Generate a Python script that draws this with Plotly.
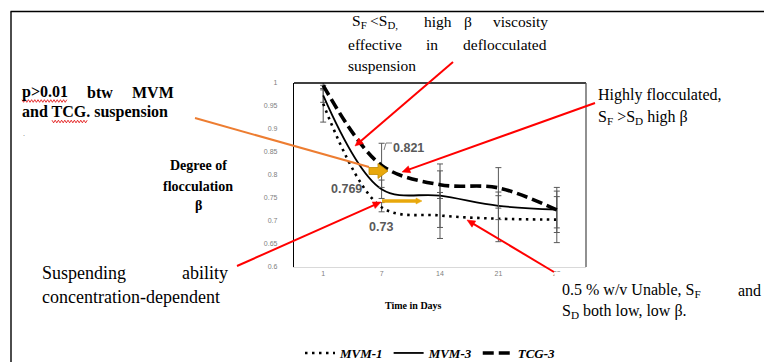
import math
import plotly.graph_objects as go

# ---------------- data ----------------
days = ["1", "7", "14", "21", "28"]
series_names = ["MVM-1", "MVM-3", "TCG-3"]
mvm1 = [0.955, 0.730, 0.712, 0.705, 0.703]
mvm3 = [0.973, 0.769, 0.755, 0.733, 0.725]
tcg3 = [0.995, 0.821, 0.779, 0.772, 0.724]
mvm1_err = [0.040, 0.010, 0.050, 0.050, 0.050]
mvm3_err = [0.015, 0.020, 0.069, 0.030, 0.040]
tcg3_err = [0.010, 0.048, 0.030, 0.044, 0.049]
y_tick_vals = [0.6, 0.65, 0.7, 0.75, 0.8, 0.85, 0.9, 0.95, 1.0]
y_tick_text = ["0.6", "0.65", "0.7", "0.75", "0.8", "0.85", "0.9", "0.95", "1"]
value_labels = [("7", 0.821, "0.821"), ("7", 0.769, "0.769"), ("7", 0.73, "0.73")]

# ---------------- layout geometry (pixels) ----------------
W, H = 764, 362
L, R, T, B = 294, 586, 83, 267


def px(x):
    return (x - L) / (R - L)


def py(y):
    return (B - y) / (B - T)


SERIF = "Liberation Serif"
SANS = "Liberation Sans"

fig = go.Figure()
styles = {
    "MVM-1": dict(color="black", width=2.6, dash="2.5px,4.5px"),
    "MVM-3": dict(color="black", width=1.8, dash="solid"),
    "TCG-3": dict(color="black", width=3.6, dash="11px,5px"),
}
for name, vals, err in zip(series_names, [mvm1, mvm3, tcg3], [mvm1_err, mvm3_err, tcg3_err]):
    fig.add_trace(go.Scatter(
        x=days, y=vals, name=name, mode="lines",
        line=dict(shape="spline", **styles[name]),
        error_y=dict(type="data", array=err, visible=True, color="#595959", thickness=1, width=3),
    ))

annotations = []
shapes = []


def txt(x, y, s, size, bold=False, anchor="left", color="black", font=SERIF):
    annotations.append(dict(
        xref="paper", yref="paper", x=px(x), y=py(y), text=s, showarrow=False,
        xanchor=anchor, yanchor="middle", borderpad=0,
        font=dict(family=font, size=size, color=color, weight="bold" if bold else "normal"),
    ))


def path_of(pts, close=False):
    d = "M " + " L ".join(f"{px(a):.5f},{py(b):.5f}" for a, b in pts)
    return d + (" Z" if close else "")


def line(x0, y0, x1, y1, color="black", width=1.3):
    shapes.append(dict(type="line", xref="paper", yref="paper", x0=px(x0), y0=py(y0),
                       x1=px(x1), y1=py(y1), line=dict(color=color, width=width), layer="above"))


def arrow(hx, hy, tx, ty, color="#FF0000", width=2, hl=8, hw=3.6):
    dx, dy = hx - tx, hy - ty
    n = math.hypot(dx, dy)
    ux, uy = dx / n, dy / n
    bx, by = hx - ux * hl, hy - uy * hl
    line(tx, ty, bx + ux * 1.0, by + uy * 1.0, color=color, width=width)
    pts = [(hx, hy), (bx - uy * hw, by + ux * hw), (bx + uy * hw, by - ux * hw)]
    shapes.append(dict(type="path", xref="paper", yref="paper", path=path_of(pts, True),
                       fillcolor=color, line=dict(color=color, width=0.5), layer="above"))


def squiggle(x0, x1, y, color="#E00000"):
    pts = []
    x = x0
    up = True
    while x <= x1:
        pts.append((x, y - 1.3 if up else y + 1.3))
        up = not up
        x += 1.6
    shapes.append(dict(type="path", xref="paper", yref="paper", path=path_of(pts),
                       line=dict(color=color, width=0.8), layer="above"))


# page frame
line(10.5, 11.5, 764, 11.5, width=1.4)
line(11, 11.5, 11, 362, width=1.4)
# plot box: top and right borders
line(L, T, R, T, color="black", width=1.3)
line(R, T, R, B, color="#555555", width=1.3)
# white text box hiding the last tick label (as in original)
shapes.append(dict(type="rect", xref="paper", yref="paper", x0=px(554.5), x1=px(764),
                   y0=py(272), y1=py(330), fillcolor="white", line=dict(width=0), layer="above"))

# top explanatory text (justified)
for s, x in [("S<sub>F</sub>", 351), ("&lt;S<sub>D,</sub>", 369), ("high", 423), ("β", 463), ("viscosity", 492)]:
    txt(x, 22, s, 15.5)
for s, x in [("effective", 347), ("in", 425), ("deflocculated", 462)]:
    txt(x, 45, s, 15.5)
txt(347, 66, "suspension", 15.5)

# p value note
for s, x in [("p&gt;0.01", 21), ("btw", 86), ("MVM", 131)]:
    txt(x, 92, s, 16, bold=True)
txt(21, 112, "and TCG. suspension", 16, bold=True)
txt(22, 133, ".", 8, color="#777777")
squiggle(22, 67, 101)
squiggle(52, 88, 121.5)

# y-axis description
txt(198, 165, "Degree of", 14, bold=True, anchor="center")
txt(198, 186, "flocculation", 14, bold=True, anchor="center")
txt(198, 205, "β", 14, bold=True, anchor="center")

# suspending ability
txt(41, 273, "Suspending", 18)
txt(229, 273, "ability", 18, anchor="right")
txt(41, 297, "concentration-dependent", 18)

# 0.5 % note
txt(561, 290, "0.5 % w/v Unable, S<sub>F</sub>", 16)
txt(762, 290, "and", 16, anchor="right")
txt(561, 311, "S<sub>D</sub> both low, low β.", 16)

# highly flocculated
txt(597, 95, "Highly flocculated,", 16)
txt(597, 117, "S<sub>F</sub> &gt;S<sub>D</sub> high β", 16)

# axis title
txt(413, 305, "Time in Days", 10, bold=True, anchor="center")

# value labels tied to data (category index on x)
label_shift = {"0.821": (27, 17), "0.769": (-35, 0), "0.73": (-1, -20)}
for day, val, lab in value_labels:
    dx, dy = label_shift[lab]
    annotations.append(dict(xref="x", yref="y", x=days.index(day), y=val, text=lab, showarrow=False,
                            xshift=dx, yshift=dy, xanchor="center", yanchor="middle",
                            font=dict(family=SANS, size=12.5, color="#595959", weight="bold")))
# small callout leader for 0.821
line(392, 143, 386, 143, color="#7f7f7f", width=1)
line(386, 143, 384, 150, color="#7f7f7f", width=1)

# red arrows
arrow(355, 146, 453, 62)
arrow(402, 172, 595, 103)
arrow(381, 202, 237, 266)
arrow(467, 220, 554, 272)
# orange line
line(195, 118, 369, 167, color="#ED7D31", width=2)

# gold arrows
gold = "#E8A80C"
poly = [(369, 167.5), (378, 167.5), (378, 163.5), (388, 171), (378, 178.5), (378, 174.5), (369, 174.5)]
shapes.append(dict(type="path", xref="paper", yref="paper", path=path_of(poly, True),
                   fillcolor=gold, line=dict(color="#C08A00", width=0.8), layer="above"))
arrow(422, 201, 382, 201, color=gold, width=3.5, hl=6, hw=3)

fig.update_layout(
    width=W, height=H,
    margin=dict(l=L, r=W - R, t=T, b=H - B, pad=0, autoexpand=False),
    paper_bgcolor="white", plot_bgcolor="white",
    showlegend=True,
    legend=dict(orientation="h", x=px(300), y=py(353), xanchor="left", yanchor="middle",
                font=dict(family=SERIF, size=13, color="black", weight="bold", style="italic"),
                itemwidth=30, bgcolor="rgba(0,0,0,0)", traceorder="normal"),
    xaxis=dict(type="category", categoryorder="array", categoryarray=days,
               showgrid=False, zeroline=False, showline=True, linecolor="#D9D9D9", linewidth=1,
               ticks="", tickfont=dict(family=SANS, size=7, color="#808080"), range=[-0.5, 4.5]),
    yaxis=dict(range=[0.6, 1.0], tickvals=y_tick_vals, ticktext=y_tick_text,
               showgrid=False, zeroline=False, showline=True, linecolor="black", linewidth=1.3,
               ticks="", ticklabelstandoff=14,
               tickfont=dict(family=SANS, size=7, color="#808080")),
    annotations=annotations,
    shapes=shapes,
)

fig.write_html("out.html", config={"displayModeBar": False},
               post_script="document.body.style.margin='0';document.body.style.overflow='hidden';")
